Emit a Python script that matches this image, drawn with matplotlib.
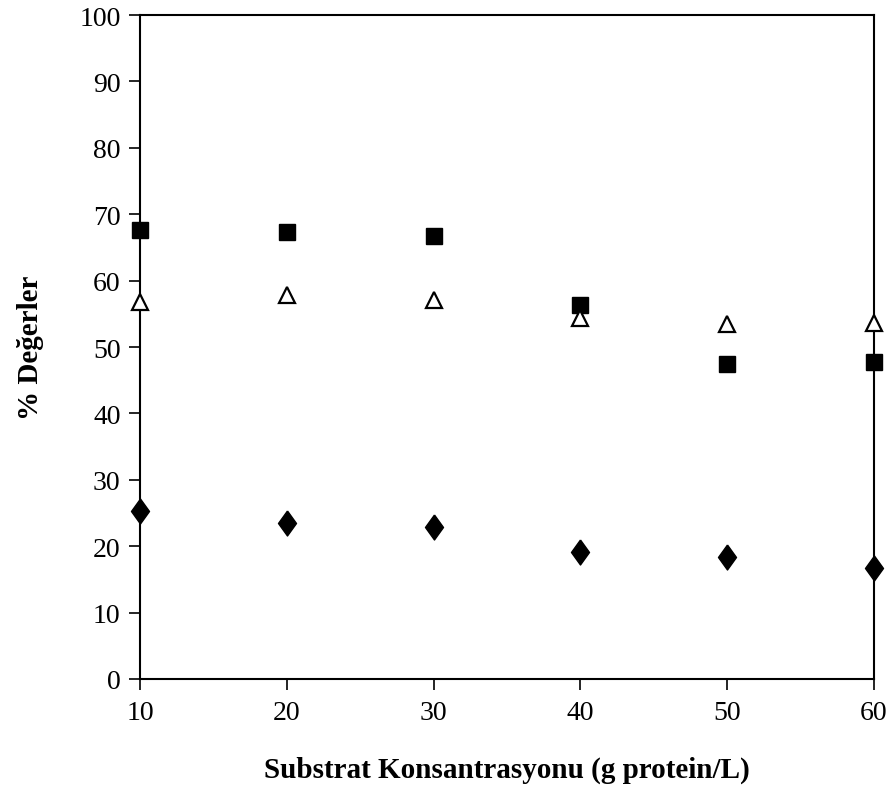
import numpy as np
import matplotlib
matplotlib.use('Agg')
import matplotlib.pyplot as plt

plt.rcParams['font.family'] = ['Liberation Serif', 'DejaVu Serif']

konsantrasyon = [10, 20, 30, 40, 50, 60]
kare = [67.6, 67.3, 66.7, 56.4, 47.4, 47.7]
ucgen = [56.8, 57.8, 57.1, 54.4, 53.4, 53.6]
elmas = [25.3, 23.5, 22.9, 19.2, 18.3, 16.7]

# slightly wider diamond than matplotlib's 'd'
elmas_isaret = [(0, 1), (0.72, 0), (0, -1), (-0.72, 0), (0, 1)]

fig = plt.figure(figsize=(8.93, 8.03), dpi=100)
ax = fig.add_axes([0.1568, 0.1532, 0.8219, 0.8268])

ax.plot(konsantrasyon, kare, 's', color='black', markersize=11, clip_on=False, zorder=3)
ax.plot(konsantrasyon, ucgen, '^', markerfacecolor='white', markeredgecolor='black',
        markeredgewidth=1.6, markersize=12, clip_on=False, zorder=3)
ax.plot(konsantrasyon, elmas, linestyle='none', marker=elmas_isaret, color='black',
        markersize=18, clip_on=False, zorder=3)

ax.set_xlim(10, 60)
ax.set_ylim(0, 100)
ax.set_xticks(np.arange(10, 61, 10))
ax.set_yticks(np.arange(0, 101, 10))
ax.tick_params(direction='out', length=8, width=1.2, labelsize=20)
ax.tick_params(axis='y', pad=6)
ax.tick_params(axis='x', pad=7)
for s in ax.spines.values():
    s.set_linewidth(1.5)

ax.set_xlabel('Substrat Konsantrasyonu (g protein/L)', fontsize=21, fontweight='bold', labelpad=22)
ax.set_ylabel('% Değerler', fontsize=21, fontweight='bold', labelpad=25)

plt.savefig('out.png', dpi=100)
